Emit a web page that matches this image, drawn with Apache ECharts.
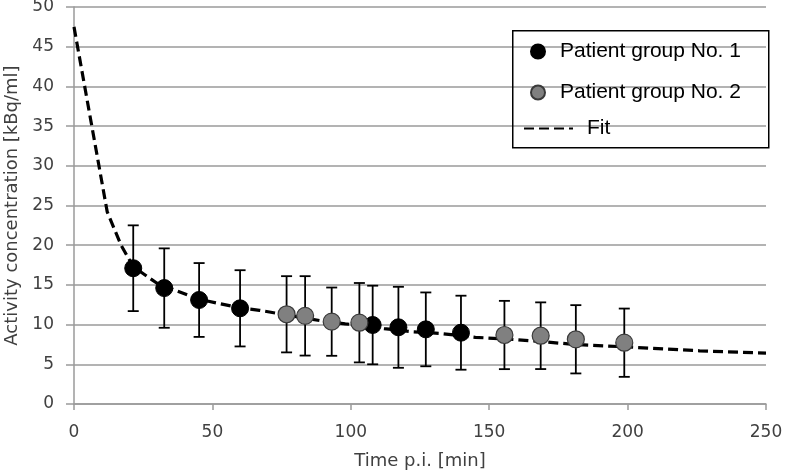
<!DOCTYPE html>
<html>
<head>
<meta charset="utf-8">
<script src="https://cdn.jsdelivr.net/npm/echarts@6/dist/echarts.min.js"></script>
<style>html,body{margin:0;padding:0;background:#fff}#c{width:787px;height:476px}</style>
</head>
<body>
<div id="c"></div>
<script>
// Data
const group1X = [21.4, 32.6, 45.2, 60.0, 107.9, 117.2, 127.1, 139.8];
const group1Y = [17.1, 14.6, 13.1, 12.05, 9.95, 9.66, 9.4, 8.98];
const group1Err = [5.4, 5.0, 4.65, 4.8, 4.95, 5.1, 4.65, 4.66];

const group2X = [76.8, 83.5, 93.1, 103.1, 155.5, 168.6, 181.3, 198.8];
const group2Y = [11.3, 11.1, 10.37, 10.24, 8.69, 8.6, 8.15, 7.72];
const group2Err = [4.8, 5.0, 4.3, 5.0, 4.3, 4.2, 4.3, 4.3];

const fitX = [0, 12, 17, 21.4, 30, 45, 60, 67, 77, 89, 98, 112, 122, 132, 145, 160, 169, 181, 199, 226, 250];
const fitY = [47.5, 24.2, 20, 17.3, 15.2, 13.2, 12.1, 11.8, 11.2, 10.5, 10.1, 9.5, 9.1, 8.9, 8.4, 8.1, 7.85, 7.5, 7.2, 6.7, 6.4];

const xTicks = [0, 50, 100, 150, 200, 250];
const yTicks = [0, 5, 10, 15, 20, 25, 30, 35, 40, 45, 50];

const names = ['Patient group No. 1', 'Patient group No. 2', 'Fit'];

function pts(xs, ys) { return xs.map((x, i) => [x, ys[i]]); }
function errData(xs, ys, es) { return xs.map((x, i) => [x, ys[i] - es[i], ys[i] + es[i]]); }

function errRender(params, api) {
  const x = api.value(0);
  const lo = api.coord([x, api.value(1)]);
  const hi = api.coord([x, api.value(2)]);
  const cap = 5.5;
  const style = { stroke: '#000', lineWidth: 1.8, fill: null };
  return {
    type: 'group',
    children: [
      { type: 'line', shape: { x1: lo[0], y1: lo[1], x2: hi[0], y2: hi[1] }, style },
      { type: 'line', shape: { x1: lo[0] - cap, y1: lo[1], x2: lo[0] + cap, y2: lo[1] }, style },
      { type: 'line', shape: { x1: hi[0] - cap, y1: hi[1], x2: hi[0] + cap, y2: hi[1] }, style }
    ]
  };
}

const chart = echarts.init(document.getElementById('c'), null, { renderer: 'canvas' });
const axisGrey = '#9a9a9a';
const font = 'DejaVu Sans';
chart.setOption({
  animation: false,
  backgroundColor: '#fff',
  grid: { left: 74, right: 21, top: 7, bottom: 72, containLabel: false, outerBoundsMode: 'none' },
  xAxis: {
    type: 'value', min: xTicks[0], max: xTicks[xTicks.length - 1], interval: 50,
    name: 'Time p.i. [min]', nameLocation: 'middle', nameGap: 48,
    nameTextStyle: { fontFamily: font, fontSize: 18, color: '#404040' },
    axisLine: { show: true, lineStyle: { color: axisGrey, width: 1.5 } },
    axisTick: { show: true, length: 6, lineStyle: { color: axisGrey, width: 1.5 } },
    axisLabel: { fontFamily: font, fontSize: 17, color: '#404040', margin: 20 },
    splitLine: { show: false }
  },
  yAxis: {
    type: 'value', min: yTicks[0], max: yTicks[yTicks.length - 1], interval: 5,
    name: 'Activity concentration [kBq/ml]', nameLocation: 'middle', nameGap: 47,
    nameTextStyle: { fontFamily: font, fontSize: 18, color: '#404040' },
    axisLine: { show: true, lineStyle: { color: axisGrey, width: 1.5 } },
    axisTick: { show: true, length: 8, lineStyle: { color: axisGrey, width: 1.5 } },
    axisLabel: { fontFamily: font, fontSize: 17, color: '#404040', margin: 20 },
    splitLine: { show: true, lineStyle: { color: axisGrey, width: 1.5 } }
  },
  legend: [
    {
      data: [names[0], names[1]], orient: 'vertical', left: 525, top: 36,
      itemWidth: 14, itemHeight: 14, itemGap: 20,
      textStyle: { fontFamily: 'Liberation Sans', fontSize: 21, color: '#000', padding: [0, 0, 0, 10] },
      selectedMode: false
    },
    {
      data: [{ name: names[2], itemStyle: { opacity: 0 } }], orient: 'vertical', left: 518, top: 113,
      itemWidth: 49, itemHeight: 14,
      textStyle: { fontFamily: 'Liberation Sans', fontSize: 21, color: '#000', padding: [0, 0, 0, 9] },
      selectedMode: false
    }
  ],
  graphic: [
    { type: 'rect', left: 512, top: 30, shape: { width: 256, height: 117 },
      style: { fill: 'rgba(0,0,0,0)', stroke: '#000', lineWidth: 1.5 }, z: 10 }
  ],
  series: [
    {
      name: names[2], type: 'line', data: pts(fitX, fitY), showSymbol: false, symbol: 'none',
      smooth: false, lineStyle: { color: '#000', width: 3.2, type: [10, 5] }, itemStyle: { color: '#000' }, z: 2
    },
    {
      type: 'custom', renderItem: errRender, data: errData(group1X, group1Y, group1Err),
      encode: { x: 0, y: [1, 2] }, z: 3, silent: true
    },
    {
      type: 'custom', renderItem: errRender, data: errData(group2X, group2Y, group2Err),
      encode: { x: 0, y: [1, 2] }, z: 3, silent: true
    },
    {
      name: names[0], type: 'scatter', data: pts(group1X, group1Y), symbol: 'circle', symbolSize: 17,
      itemStyle: { color: '#000', borderColor: '#000', borderWidth: 1, opacity: 1 }, z: 4
    },
    {
      name: names[1], type: 'scatter', data: pts(group2X, group2Y), symbol: 'circle', symbolSize: 17,
      itemStyle: { color: '#808080', borderColor: '#3a3a3a', borderWidth: 1.2, opacity: 1 }, z: 4
    }
  ]
});
</script>
</body>
</html>
